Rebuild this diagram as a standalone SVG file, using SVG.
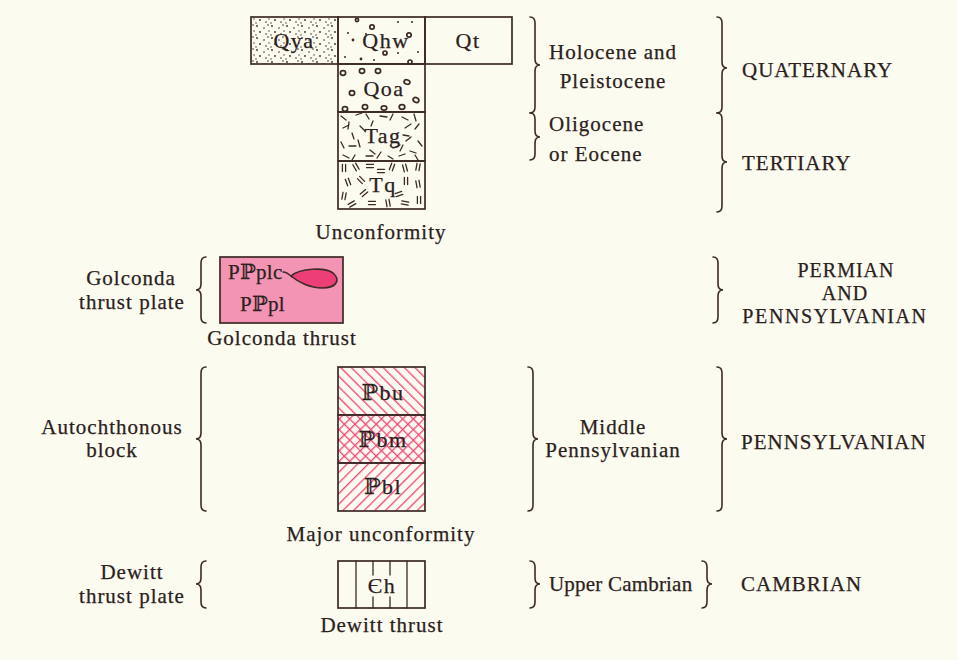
<svg xmlns="http://www.w3.org/2000/svg" xmlns:xlink="http://www.w3.org/1999/xlink" width="957" height="660" viewBox="0 0 957 660">
<style>
.t{font-family:"Liberation Serif","DejaVu Serif","DejaVu Sans",serif;font-size:21px;fill:#2b211c;letter-spacing:1px;stroke:#2b211c;stroke-width:0.25px}
.c{text-anchor:middle}
.pp{font-size:20px}
.bl{font-family:"Liberation Serif","DejaVu Serif","DejaVu Sans",serif;font-size:22px;fill:#2b211c;letter-spacing:1.5px;text-anchor:middle;stroke:#2b211c;stroke-width:0.25px}
.bx{fill:none;stroke:#3b2b24;stroke-width:1.7}
.br{fill:none;stroke:#3b2b24;stroke-width:1.6;stroke-linecap:round}
.ink{fill:none;stroke:#3b2b24;stroke-width:1.3;stroke-linecap:round}
.ov{fill:none;stroke:#3b2b24;stroke-width:1.7}
.hat{stroke:#f0467a;stroke-width:1.3}
</style>
<defs>
<pattern id="dots" width="15" height="12" patternUnits="userSpaceOnUse">
<circle cx="2" cy="2" r="0.9" fill="#3b2b24"/><circle cx="9" cy="4" r="0.8" fill="#3b2b24"/><circle cx="13" cy="1" r="0.8" fill="#3b2b24"/><circle cx="5" cy="8" r="0.9" fill="#3b2b24"/><circle cx="11" cy="10" r="0.8" fill="#3b2b24"/><circle cx="14" cy="7" r="0.7" fill="#3b2b24"/><circle cx="1" cy="11" r="0.7" fill="#3b2b24"/>
</pattern>
<pattern id="hatchB" width="7.5" height="7.5" patternUnits="userSpaceOnUse" patternTransform="rotate(-45)">
<line x1="3.5" y1="0" x2="3.5" y2="7.5" class="hat"/>
</pattern>
<pattern id="hatchF" width="7.5" height="7.5" patternUnits="userSpaceOnUse" patternTransform="rotate(45)">
<line x1="3.5" y1="0" x2="3.5" y2="7.5" class="hat"/>
</pattern>
<g id="pr"><path d="M-3.5,-1.6h7M-3.5,1.6h7" class="ink"/></g>
</defs>
<rect width="957" height="660" fill="#fcfbf0"/>

<g id="Qya">
<rect x="251" y="17" width="87" height="47" fill="url(#dots)"/>
<rect x="251" y="17" width="87" height="47" class="bx"/>
<text x="294" y="48" class="bl">Qya</text>
</g>
<g id="Qhw">
<rect x="338" y="17" width="87" height="47" class="bx"/>
<g class="ov">
<circle cx="372" cy="27" r="2.2"/><circle cx="409" cy="35" r="2.2"/><circle cx="385" cy="53" r="2"/><circle cx="410" cy="62" r="2"/><circle cx="357" cy="20" r="1.6"/>
</g>
<g fill="#3b2b24">
<circle cx="348" cy="33" r="1"/><circle cx="353" cy="40" r="1.4"/><circle cx="345" cy="57" r="1"/><circle cx="361" cy="59" r="1.4"/><circle cx="398" cy="22" r="1"/><circle cx="412" cy="22" r="1"/><circle cx="418" cy="52" r="1"/><circle cx="398" cy="53" r="1"/><circle cx="374" cy="60" r="1"/><circle cx="366" cy="34" r="1"/>
</g>
<text x="386" y="48" class="bl">Qhw</text>
</g>
<g id="Qt">
<rect x="425" y="17" width="87" height="47" class="bx"/>
<text x="468" y="48" class="bl">Qt</text>
</g>
<g id="Qoa">
<rect x="338" y="64" width="87" height="48" class="bx"/>
<g class="ov">
<ellipse cx="343" cy="73" rx="2.6" ry="2.3"/><ellipse cx="362" cy="71" rx="2.6" ry="2.3"/><ellipse cx="378" cy="71" rx="2.6" ry="2.3"/><ellipse cx="407" cy="82" rx="3" ry="2.2" transform="rotate(20 407 82)"/><ellipse cx="352" cy="93" rx="2.6" ry="2.4"/><ellipse cx="416" cy="100" rx="3" ry="2.3" transform="rotate(30 416 100)"/><ellipse cx="345" cy="109" rx="2.6" ry="2.3"/><ellipse cx="365" cy="107" rx="2.6" ry="2.3"/><ellipse cx="384" cy="108" rx="2.8" ry="2.2"/><ellipse cx="402" cy="107" rx="2.8" ry="2.3"/>
</g>
<text x="384" y="96" class="bl">Qoa</text>
</g>
<g id="Tag">
<rect x="338" y="112" width="87" height="49" class="bx"/>
<path class="ink" d="M341,116l5,4M349,122l-1,7M356,115l6,-2M366,114l3,5M380,116l7,1M393,114l-3,6M402,117l6,3M414,114l2,7M419,124l-4,5M343,128l6,-3M352,133l2,6M360,126l5,5M405,128l6,-4M411,137l-5,4M418,141l4,5M341,142l3,6M349,146l7,0M358,140l2,7M370,150l5,4M381,152l-4,6M393,148l7,-3M403,145l-3,6M410,151l6,2M343,155l6,3M355,155l-3,5M366,156l7,0M388,156l5,3M399,156l6,-2M415,155l3,5M373,121l-2,5M403,135l6,1"/>
<text x="383" y="143" class="bl">Tag</text>
</g>
<g id="Tq">
<rect x="338" y="161" width="87" height="48" class="bx"/>
<use xlink:href="#pr" transform="translate(344,168) rotate(90)"/>
<use xlink:href="#pr" transform="translate(356,167) rotate(60)"/>
<use xlink:href="#pr" transform="translate(370,166) rotate(0)"/>
<use xlink:href="#pr" transform="translate(392,167) rotate(110)"/>
<use xlink:href="#pr" transform="translate(405,168) rotate(75)"/>
<use xlink:href="#pr" transform="translate(418,167) rotate(100)"/>
<use xlink:href="#pr" transform="translate(348,182) rotate(70)"/>
<use xlink:href="#pr" transform="translate(361,180) rotate(45)"/>
<use xlink:href="#pr" transform="translate(364,193) rotate(-40)"/>
<use xlink:href="#pr" transform="translate(406,181) rotate(90)"/>
<use xlink:href="#pr" transform="translate(418,184) rotate(80)"/>
<use xlink:href="#pr" transform="translate(399,194) rotate(-20)"/>
<use xlink:href="#pr" transform="translate(344,196) rotate(100)"/>
<use xlink:href="#pr" transform="translate(352,204) rotate(-30)"/>
<use xlink:href="#pr" transform="translate(372,203) rotate(0)"/>
<use xlink:href="#pr" transform="translate(388,203) rotate(80)"/>
<use xlink:href="#pr" transform="translate(405,203) rotate(10)"/>
<use xlink:href="#pr" transform="translate(419,200) rotate(90)"/>
<use xlink:href="#pr" transform="translate(381,171) rotate(0)"/>
<text x="383" y="192" class="bl">Tq</text>
</g>
<g id="unconformity">
<text x="381" y="239" class="t c">Unconformity</text>
</g>
<g id="PPpl">
<rect x="220" y="257" width="123" height="66" fill="#f494b4" stroke="#3b2b24" stroke-width="1.7"/>
<path d="M291,276 C300,268 325,267 333,273 C340,279 338,288 322,288 C310,288 298,282 291,276 Z" fill="#ec3f78" stroke="#3b2b24" stroke-width="1.6"/>
<path d="M283,272 C287,272 289,274 292,277" class="ink"/>
<text x="228" y="279" class="t" style="letter-spacing:0.3px">Pℙplc</text>
<text x="240" y="311" class="t" style="letter-spacing:0.3px">Pℙpl</text>
</g>
<g id="golconda-thrust">
<text x="282" y="345" class="t c">Golconda thrust</text>
</g>
<g id="golconda-plate">
<text x="131" y="285" class="t c">Golconda</text>
<text x="132" y="309" class="t c">thrust plate</text>
</g>
<g id="Pbu">
<rect x="338" y="367" width="87" height="48" fill="url(#hatchB)"/>
<rect x="338" y="367" width="87" height="48" class="bx"/>
<text x="383" y="400" class="bl">ℙbu</text>
</g>
<g id="Pbm">
<rect x="338" y="415" width="87" height="48" fill="url(#hatchB)"/>
<rect x="338" y="415" width="87" height="48" fill="url(#hatchF)"/>
<rect x="338" y="415" width="87" height="48" class="bx"/>
<text x="383" y="447" class="bl">ℙbm</text>
</g>
<g id="Pbl">
<rect x="338" y="463" width="87" height="48" fill="url(#hatchF)"/>
<rect x="338" y="463" width="87" height="48" class="bx"/>
<text x="383" y="494" class="bl">ℙbl</text>
</g>
<g id="autochthonous">
<text x="112" y="434" class="t c">Autochthonous</text>
<text x="112" y="457" class="t c">block</text>
</g>
<g id="major-unconformity">
<text x="381" y="541" class="t c">Major unconformity</text>
</g>
<g id="Ch">
<rect x="338" y="561" width="87" height="47" class="bx"/>
<path class="ink" d="M356,561V608M407,561V608M373,561V575M390,561V575M373,597V608M390,597V608"/>
<text x="382" y="593" class="bl">Єh</text>
</g>
<g id="dewitt-thrust">
<text x="382" y="632" class="t c">Dewitt thrust</text>
</g>
<g id="dewitt-plate">
<text x="132" y="579" class="t c">Dewitt</text>
<text x="132" y="603" class="t c">thrust plate</text>
</g>
<g id="ages">
<text x="549" y="59" class="t">Holocene and</text>
<text x="613" y="88" class="t c">Pleistocene</text>
<text x="549" y="131" class="t">Oligocene</text>
<text x="549" y="161" class="t">or Eocene</text>
<text x="613" y="434" class="t c">Middle</text>
<text x="613" y="457" class="t c">Pennsylvanian</text>
<text x="549" y="591" class="t" style="letter-spacing:0.2px">Upper Cambrian</text>
</g>
<g id="periods">
<text x="742" y="77" class="t">QUATERNARY</text>
<text x="742" y="170" class="t">TERTIARY</text>
<text x="846" y="277" class="t c pp">PERMIAN</text>
<text x="845" y="300" class="t c pp">AND</text>
<text x="835" y="323" class="t c pp" style="letter-spacing:1.6px">PENNSYLVANIAN</text>
<text x="741" y="449" class="t">PENNSYLVANIAN</text>
<text x="741" y="591" class="t">CAMBRIAN</text>
</g>
<g id="connectors">
<path class="br" d="M530,17 Q535,17 535,23 L535,59 Q535,65 540,65 Q535,65 535,71 L535,107 Q535,113 530,113"/>
<path class="br" d="M530,113 Q535,113 535,119 L535,131 Q535,137 540,137 Q535,137 535,143 L535,154 Q535,160 530,160"/>
<path class="br" d="M717,17 Q722,17 722,23 L722,62 Q722,68 727,68 Q722,68 722,74 L722,107 Q722,113 717,113"/>
<path class="br" d="M717,113 Q722,113 722,119 L722,156 Q722,162 727,162 Q722,162 722,168 L722,206 Q722,212 717,212"/>
<path class="br" d="M206,257 Q201,257 201,263 L201,284 Q201,290 196,290 Q201,290 201,296 L201,317 Q201,323 206,323"/>
<path class="br" d="M713,257 Q718,257 718,263 L718,284 Q718,290 723,290 Q718,290 718,296 L718,317 Q718,323 713,323"/>
<path class="br" d="M206,367 Q201,367 201,373 L201,433 Q201,439 196,439 Q201,439 201,445 L201,505 Q201,511 206,511"/>
<path class="br" d="M528,367 Q533,367 533,373 L533,433 Q533,439 538,439 Q533,439 533,445 L533,505 Q533,511 528,511"/>
<path class="br" d="M717,367 Q722,367 722,373 L722,433 Q722,439 727,439 Q722,439 722,445 L722,505 Q722,511 717,511"/>
<path class="br" d="M206,561 Q201,561 201,567 L201,578 Q201,584 196,584 Q201,584 201,590 L201,602 Q201,608 206,608"/>
<path class="br" d="M530,561 Q535,561 535,567 L535,578 Q535,584 540,584 Q535,584 535,590 L535,602 Q535,608 530,608"/>
<path class="br" d="M702,561 Q707,561 707,567 L707,578 Q707,584 712,584 Q707,584 707,590 L707,602 Q707,608 702,608"/>
</g>
</svg>
